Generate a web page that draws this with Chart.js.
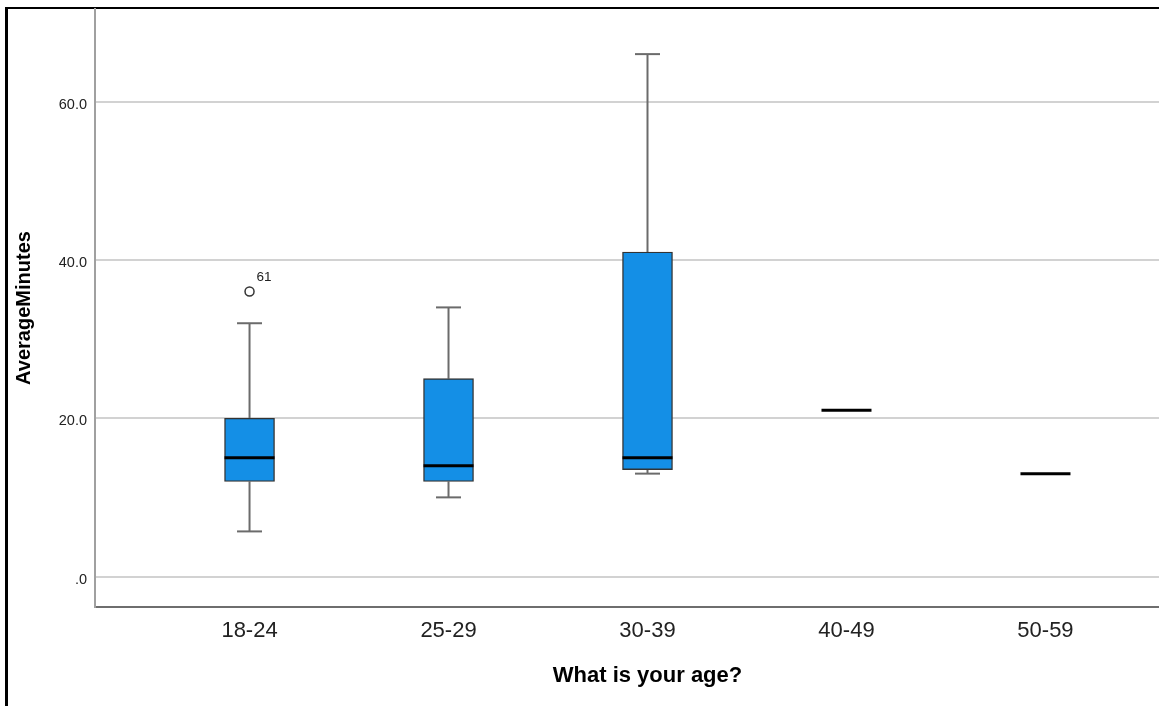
<!DOCTYPE html>
<html><head><meta charset="utf-8">
<script src="https://cdn.jsdelivr.net/npm/chart.js@4.4.1/dist/chart.umd.min.js"></script>
<style>
html,body{margin:0;padding:0;background:#fff;overflow:hidden;width:1159px;height:706px}
#wrap{position:relative;width:1159px;height:706px;overflow:hidden;background:#fff}
#frame{position:absolute;left:5px;top:7px;width:1300px;height:800px;border-left:3px solid #000;border-top:2px solid #000;box-sizing:border-box}
canvas{position:absolute;left:0;top:0}
</style></head><body>
<div id="wrap"><div id="frame"></div><canvas id="c" width="1206" height="706" style="width:1206px;height:706px"></canvas></div>
<script>
const categories = ['18-24', '25-29', '30-39', '40-49', '50-59'];
const q1 = [12, 12, 13.5, null, null];
const median = [15, 14, 15, 21, 13];
const q3 = [20, 25, 41, null, null];
const whiskerLow = [5.7, 10, 13, null, null];
const whiskerHigh = [32, 34, 66, null, null];
const outlierCategory = ['18-24'];
const outlierValues = [36];
const outlierLabels = ['61'];
const yTicks = [0, 20, 40, 60];

const FONT = "'Liberation Sans', Arial, sans-serif";
const BOX_W = 50;
const CAP_W = 25;

const boxData = categories.map((c, i) => (q1[i] == null ? null : { x: i + 1, y: [q1[i], q3[i]] })).filter(d => d);
const outlierData = outlierValues.map((v, k) => ({ x: categories.indexOf(outlierCategory[k]) + 1, y: v }));

const boxPlugin = {
  id: 'boxExtras',
  beforeDatasetsDraw(chart) {
    const ctx = chart.ctx, xs = chart.scales.x, ys = chart.scales.y;
    ctx.save();
    ctx.strokeStyle = '#6b6b6b';
    ctx.lineWidth = 2;
    categories.forEach((c, i) => {
      if (whiskerLow[i] == null) return;
      const x = xs.getPixelForValue(i + 1);
      const segs = [[whiskerLow[i], q1[i]], [q3[i], whiskerHigh[i]]];
      segs.forEach(([a, b]) => {
        ctx.beginPath();
        ctx.moveTo(x, ys.getPixelForValue(a));
        ctx.lineTo(x, ys.getPixelForValue(b));
        ctx.stroke();
      });
      [whiskerLow[i], whiskerHigh[i]].forEach(v => {
        const y = ys.getPixelForValue(v);
        ctx.beginPath();
        ctx.moveTo(x - CAP_W / 2, y);
        ctx.lineTo(x + CAP_W / 2, y);
        ctx.stroke();
      });
    });
    ctx.restore();
  },
  afterDatasetsDraw(chart) {
    const ctx = chart.ctx, xs = chart.scales.x, ys = chart.scales.y;
    ctx.save();
    ctx.strokeStyle = '#000';
    ctx.lineWidth = 3;
    categories.forEach((c, i) => {
      const x = xs.getPixelForValue(i + 1);
      const y = ys.getPixelForValue(median[i]);
      ctx.beginPath();
      ctx.moveTo(x - BOX_W / 2, y);
      ctx.lineTo(x + BOX_W / 2, y);
      ctx.stroke();
    });
    ctx.fillStyle = '#222';
    ctx.font = '13.5px ' + FONT;
    ctx.textAlign = 'left';
    ctx.textBaseline = 'middle';
    outlierData.forEach((d, k) => {
      const x = xs.getPixelForValue(d.x), y = ys.getPixelForValue(d.y);
      ctx.fillText(outlierLabels[k], x + 7, y - 14);
    });
    ctx.restore();
  }
};

new Chart(document.getElementById('c'), {
  type: 'bar',
  data: {
    datasets: [
      {
        type: 'bar',
        data: boxData,
        backgroundColor: '#148fe6',
        borderColor: '#333333',
        borderWidth: 1.4,
        borderSkipped: false,
        barThickness: BOX_W,
        grouped: false,
        order: 2
      },
      {
        type: 'scatter',
        data: outlierData,
        pointRadius: 4.5,
        pointStyle: 'circle',
        backgroundColor: '#fff',
        borderColor: '#333',
        borderWidth: 1.5,
        order: 1
      }
    ]
  },
  options: {
    responsive: false,
    animation: false,
    events: [],
    layout: { padding: { left: 0, right: 1.5, top: 9, bottom: 0 } },
    plugins: { legend: { display: false }, tooltip: { enabled: false } },
    scales: {
      x: {
        type: 'linear',
        offset: false,
        min: 0.2234,
        max: 5.7766,
        afterFit(s) { s.height = 99; s.paddingLeft = 0; s.paddingRight = 0; },
        afterBuildTicks(s) { s.ticks = categories.map((c, i) => ({ value: i + 1 })); },
        grid: { display: false, drawTicks: false, offset: false },
        border: { display: true, color: '#6e6e6e', width: 2 },
        ticks: {
          callback: v => categories[Math.round(v) - 1] || '',
          color: '#222',
          font: { family: FONT, size: 22 },
          padding: 11,
          maxRotation: 0,
          autoSkip: false
        },
        title: {
          display: true,
          text: 'What is your age?',
          color: '#000',
          font: { family: FONT, size: 22, weight: 'bold' },
          padding: { top: 0, bottom: 17 }
        }
      },
      y: {
        type: 'linear',
        min: -3.85,
        max: 71.7,
        afterFit(s) { s.width = 95; s.paddingTop = 0; s.paddingBottom = 0; },
        afterBuildTicks(s) { s.ticks = yTicks.map(v => ({ value: v })); },
        grid: { color: '#d2d2d2', lineWidth: 2, drawTicks: false },
        border: { display: true, color: '#a0a0a0', width: 2 },
        ticks: {
          callback: v => (v === 0 ? '.0' : v.toFixed(1)),
          color: '#222',
          font: { family: FONT, size: 14.5 },
          padding: 8,
          labelOffset: 3
        },
        title: {
          display: true,
          text: 'AverageMinutes',
          color: '#000',
          font: { family: FONT, size: 20, weight: 'bold' },
          padding: { top: 12.5, bottom: 0 }
        }
      }
    }
  },
  plugins: [boxPlugin]
});
</script>
</body></html>
